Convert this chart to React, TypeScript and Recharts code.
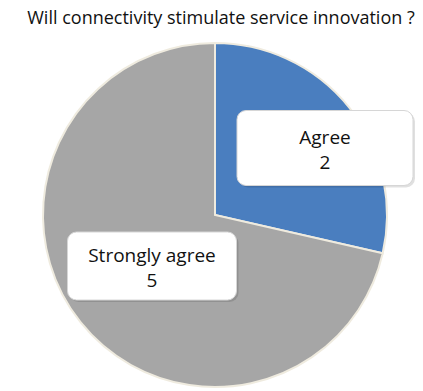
import React from "react";
import { PieChart, Pie, Cell } from "recharts";

const categories = ["Agree", "Strongly agree"];
const counts = [2, 5];
const sliceColors = ["#4a7ebf", "#a6a6a6"];

// label box placement relative to the pie centre
const labelBoxes = [
  { dx: 110, dy: -67, w: 176, h: 75 },
  { dx: -63, dy: 51, w: 169, h: 68 },
];

const data = categories.map((name, i) => ({ name, value: counts[i] }));

const FONT = "'Open Sans', 'Noto Sans', sans-serif";

const renderLabel = (props: any) => {
  const { cx, cy, index, name, value } = props;
  const box = labelBoxes[index];
  const x = cx + box.dx;
  const y = cy + box.dy;
  return (
    <g>
      <rect
        x={x - box.w / 2 + 2}
        y={y - box.h / 2 + 2}
        width={box.w}
        height={box.h}
        rx={9}
        fill="#000"
        opacity={0.12}
      />
      <rect
        x={x - box.w / 2}
        y={y - box.h / 2}
        width={box.w}
        height={box.h}
        rx={9}
        fill="#ffffff"
        stroke="#d6d6d6"
        strokeWidth={1}
      />
      <text
        x={x}
        y={y - 4}
        textAnchor="middle"
        fontFamily={FONT}
        fontSize={19}
        fill="#111"
      >
        {name}
      </text>
      <text
        x={x}
        y={y + 21}
        textAnchor="middle"
        fontFamily={FONT}
        fontSize={19}
        fill="#111"
      >
        {value}
      </text>
    </g>
  );
};

const App = () => {
  return (
    <div
      style={{
        position: "absolute",
        left: 0,
        top: 0,
        width: 423,
        height: 391,
        background: "#ffffff",
      }}
    >
      <div
        style={{
          position: "absolute",
          left: 0,
          top: 6,
          width: 442,
          textAlign: "center",
          fontFamily: FONT,
          fontSize: 18,
          lineHeight: "22px",
          color: "#111",
          whiteSpace: "nowrap",
        }}
      >
        Will connectivity stimulate service innovation ?
      </div>
      <PieChart
        width={423}
        height={391}
        margin={{ top: 0, right: 0, bottom: 0, left: 0 }}
      >
        <Pie
          data={data}
          dataKey="value"
          nameKey="name"
          cx={215}
          cy={215}
          outerRadius={172}
          startAngle={90}
          endAngle={-270}
          stroke="#efebdf"
          strokeWidth={2}
          labelLine={false}
          label={renderLabel}
          isAnimationActive={false}
        >
          {data.map((d, i) => (
            <Cell key={d.name} fill={sliceColors[i]} />
          ))}
        </Pie>
      </PieChart>
    </div>
  );
};

export default App;
